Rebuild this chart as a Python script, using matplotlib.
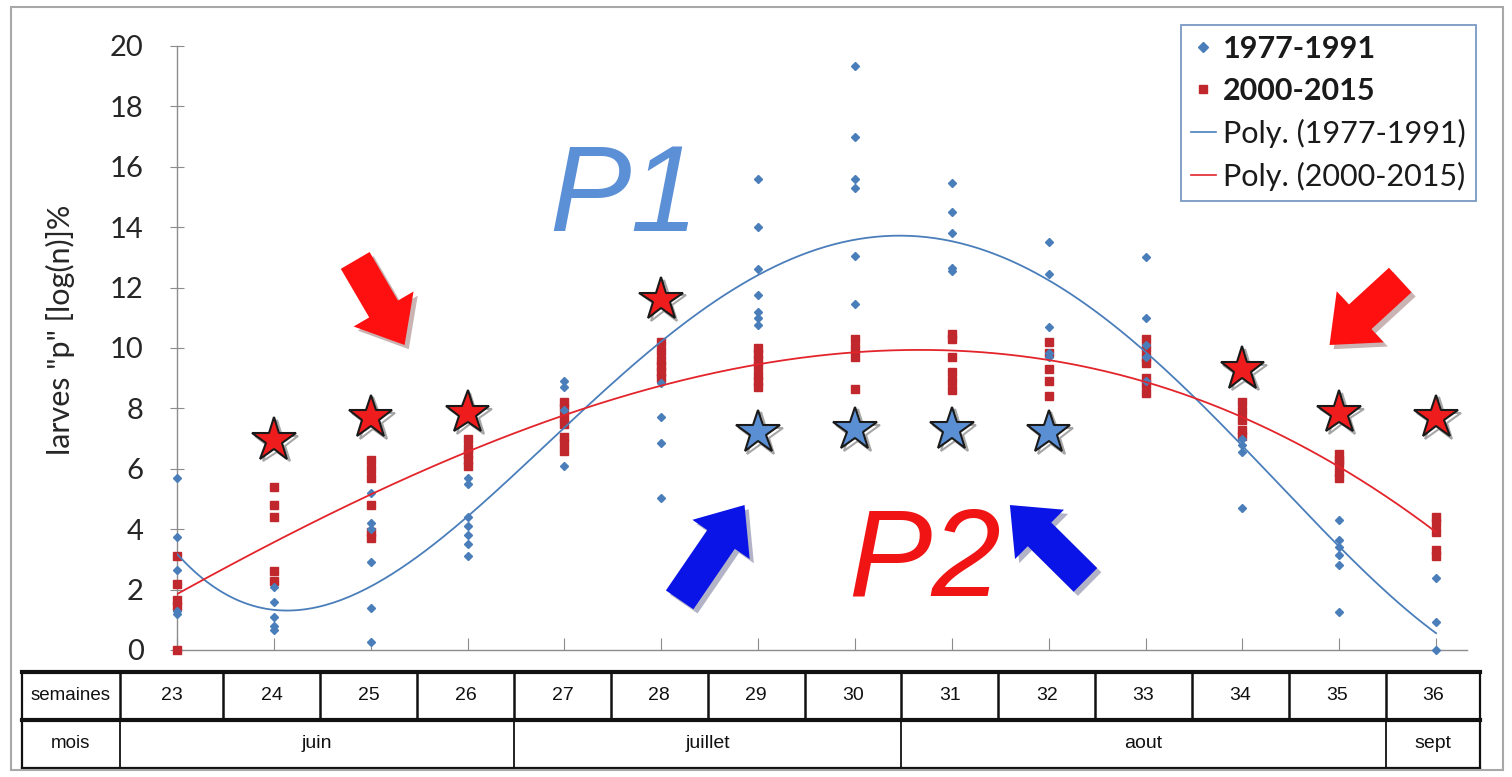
import numpy as np
import matplotlib
matplotlib.use("Agg")
import matplotlib.pyplot as plt
from matplotlib import font_manager
from matplotlib.lines import Line2D
from matplotlib.patches import Rectangle
import matplotlib.patheffects as pe

# ---------------- data ----------------
weeks = [23, 24, 25, 26, 27, 28, 29, 30, 31, 32, 33, 34, 35, 36]

blue_1977 = [
    [5.7, 3.75, 2.65, 1.3, 1.2],
    [2.1, 1.6, 1.1, 0.8, 0.65],
    [5.2, 4.2, 4.0, 2.9, 1.4, 0.25],
    [5.7, 5.5, 4.4, 4.1, 3.8, 3.5, 3.1],
    [8.9, 8.7, 7.95, 6.1],
    [8.85, 7.7, 6.85, 5.03],
    [15.6, 14.0, 12.6, 11.75, 11.2, 11.0, 10.75],
    [19.35, 17.0, 15.6, 15.3, 13.05, 11.45],
    [15.45, 14.5, 13.8, 12.65, 12.55],
    [13.5, 12.45, 10.7, 9.85, 9.7],
    [13.0, 11.0, 10.1, 9.7, 8.9],
    [7.0, 6.8, 6.55, 4.7],
    [4.3, 3.65, 3.4, 3.15, 2.8, 1.25],
    [2.4, 0.93, 0.0],
]
red_2000 = [
    [3.1, 2.2, 1.65, 1.45, 0.0],
    [5.4, 4.8, 4.4, 2.6, 2.3],
    [6.3, 6.0, 5.7, 4.8, 3.9, 3.7],
    [7.0, 6.7, 6.5, 6.3, 6.1],
    [8.2, 8.0, 7.7, 7.5, 7.05, 6.85, 6.6],
    [10.2, 9.9, 9.6, 9.4, 9.2, 9.0],
    [10.0, 9.8, 9.6, 9.4, 9.1, 8.9, 8.7],
    [10.3, 10.0, 9.7, 8.65],
    [10.45, 10.3, 9.7, 9.2, 8.9, 8.6],
    [10.2, 9.85, 9.3, 8.9, 8.4],
    [10.3, 10.0, 9.7, 9.5, 9.0, 8.8, 8.5],
    [8.2, 7.9, 7.6, 7.3, 7.1],
    [6.5, 6.3, 6.2, 5.9, 5.7],
    [4.4, 4.2, 3.9, 3.3, 3.1],
]

red_star_weeks = [24, 25, 26, 28, 34, 35, 36]
red_star_values = [6.95, 7.7, 7.85, 11.6, 9.3, 7.85, 7.7]
blue_star_weeks = [29, 30, 31, 32]
blue_star_values = [7.2, 7.3, 7.3, 7.2]

# arrows: (tail_x, tail_y, tip_x, tip_y) in data units
red_arrows = [(24.84, 12.9, 25.35, 10.1), (35.63, 12.25, 34.9, 10.1)]
blue_arrows = [(28.19, 1.66, 28.86, 4.8), (32.38, 2.32, 31.6, 4.8)]

months = ["juin", "juillet", "aout", "sept"]
month_weeks = [(23, 26), (27, 30), (31, 35), (36, 36)]

legend_labels = ["1977-1991", "2000-2015", "Poly. (1977-1991)", "Poly. (2000-2015)"]
ylabel = 'larves "p" [log(n)]%'

# ---------------- style ----------------
BLUE = "#4a7ebb"
DARKRED = "#c0282d"
RED_LINE = "#e3242b"
STAR_RED = "#ee1c1c"
STAR_BLUE = "#5b8fd4"

names = {f.name for f in font_manager.fontManager.ttflist}
main_font = "Lato" if "Lato" in names else "DejaVu Sans"
narrow_font = "Liberation Sans Narrow" if "Liberation Sans Narrow" in names else "Liberation Sans"
plt.rcParams["font.family"] = [main_font, "DejaVu Sans"]

W, H = 1512, 777
fig = plt.figure(figsize=(W / 100, H / 100), dpi=100)
fig.patch.set_facecolor("white")

# outer frame
fig.patches.append(Rectangle((11 / W, 7 / H), (1503 - 11) / W, (770 - 7) / H,
                             transform=fig.transFigure, fill=False,
                             edgecolor="#a8a8a8", lw=1.5))

ax_l, ax_r, ax_t, ax_b = 177, 1467, 46, 650
ax = fig.add_axes([ax_l / W, (H - ax_b) / H, (ax_r - ax_l) / W, (ax_b - ax_t) / H])
x0 = 23.0
px_per_week = 96.85
x1 = x0 + (ax_r - ax_l) / px_per_week
ax.set_xlim(x0, x1)
ax.set_ylim(0, 20)

for s in ["top", "right"]:
    ax.spines[s].set_visible(False)
for s in ["left", "bottom"]:
    ax.spines[s].set_color("#8c8c8c")
    ax.spines[s].set_linewidth(1.0)

ax.set_yticks(np.arange(0, 21, 2))
ax.set_xticks(weeks)
ax.set_xticklabels([])
ax.tick_params(axis="y", direction="inout", length=10, color="#8c8c8c",
               labelsize=21, labelcolor="#262626", pad=19)
ax.tick_params(axis="x", direction="in", length=9, color="#8c8c8c")

# scatter points
bx = np.concatenate([[w] * len(v) for w, v in zip(weeks, blue_1977)])
by = np.concatenate(blue_1977)
rx = np.concatenate([[w] * len(v) for w, v in zip(weeks, red_2000)])
ry = np.concatenate(red_2000)

ax.plot(rx, ry, ls="none", marker="s", ms=5.4, mfc=DARKRED, mec=DARKRED,
        clip_on=False, zorder=3)
ax.plot(bx, by, ls="none", marker="D", ms=4.5, mfc=BLUE, mec=BLUE,
        clip_on=False, zorder=3)

# polynomial trend lines (fit of the data, like the spreadsheet trendline)
xs = np.linspace(23, 36, 300)
pb = np.polyfit(bx, by, 4)
pr = np.polyfit(rx, ry, 3)
ax.plot(xs, np.polyval(pb, xs), color=BLUE, lw=1.3, zorder=4)
ax.plot(xs, np.polyval(pr, xs), color=RED_LINE, lw=1.3, zorder=4)

shadow = [pe.SimpleLineShadow(offset=(2, -2), alpha=0.35), pe.Normal()]
ax.plot(red_star_weeks, red_star_values, ls="none", marker="*", ms=33,
        mfc=STAR_RED, mec="#1a1a1a", mew=1.5, zorder=6, clip_on=False,
        path_effects=shadow)
ax.plot(blue_star_weeks, blue_star_values, ls="none", marker="*", ms=33,
        mfc=STAR_BLUE, mec="#1a1a1a", mew=1.5, zorder=6, clip_on=False,
        path_effects=shadow)

# arrows
arrow_style = "simple,head_length=0.6,head_width=1.0,tail_width=0.48"
for (tx, ty, hx, hy) in red_arrows:
    ax.annotate("", xy=(hx, hy), xytext=(tx, ty),
                arrowprops=dict(arrowstyle=arrow_style, mutation_scale=50,
                                fc="#ff1010", ec="none", shrinkA=0, shrinkB=0,
                                path_effects=[pe.withSimplePatchShadow(offset=(3, -3), alpha=0.3)]),
                zorder=7)
for (tx, ty, hx, hy) in blue_arrows:
    ax.annotate("", xy=(hx, hy), xytext=(tx, ty),
                arrowprops=dict(arrowstyle=arrow_style, mutation_scale=50,
                                fc="#0a14e6", ec="none", shrinkA=0, shrinkB=0,
                                path_effects=[pe.withSimplePatchShadow(offset=(3, -3), alpha=0.3)]),
                zorder=7)

# P1 / P2 labels
ax.text(27.62, 14.95, "P1", color="#5b8fd6", fontsize=88, style="italic",
        family=["Liberation Sans", "DejaVu Sans"], ha="center", va="center", zorder=2)
ax.text(30.72, 2.85, "P2", color="#f01414", fontsize=90, style="italic",
        family=["Liberation Sans", "DejaVu Sans"], ha="center", va="center", zorder=2)

# y label
fig.text(60 / W, 1 - 330 / H, ylabel, rotation=90, ha="center", va="center",
         fontsize=22, color="#262626")

# legend
handles = [
    Line2D([], [], ls="none", marker="D", ms=5, mfc=BLUE, mec=BLUE),
    Line2D([], [], ls="none", marker="s", ms=5.5, mfc=DARKRED, mec=DARKRED),
    Line2D([], [], color=BLUE, lw=1.2),
    Line2D([], [], color=RED_LINE, lw=1.2),
]
leg = fig.legend(handles, legend_labels, loc="upper right",
                 bbox_to_anchor=(1476 / W, 1 - 25 / H), fontsize=22,
                 frameon=True, fancybox=False, edgecolor="#5a7fb5",
                 handlelength=0.8, handletextpad=0.25, labelspacing=0.45,
                 borderpad=0.33, borderaxespad=0)
leg.get_frame().set_linewidth(1.3)
for i, t in enumerate(leg.get_texts()):
    t.set_color("#1a1a1a")
    if i < 2:
        t.set_fontweight("bold")

# ---------------- table ----------------
tl, tr, tt, tb = 22, 1480, 672, 768
tax = fig.add_axes([tl / W, (H - tb) / H, (tr - tl) / W, (tb - tt) / H])
tx0 = x0 - (ax_l - tl) / px_per_week
tx1 = x0 + (tr - ax_l) / px_per_week
tax.set_xlim(tx0, tx1)
tax.set_ylim(0, 2)
tax.axis("off")

edges = [22.41] + [w - 0.52 for w in weeks[1:]] + [36.45]
lc = "#111111"
tax.plot([tx0, tx1], [2, 2], color=lc, lw=3, clip_on=False)
tax.plot([tx0, tx1], [1, 1], color=lc, lw=3, clip_on=False)
tax.plot([tx0, tx1], [0, 0], color=lc, lw=1.6, clip_on=False)
tax.plot([tx0, tx0], [0, 2], color=lc, lw=1.6, clip_on=False)
tax.plot([tx1, tx1], [0, 2], color=lc, lw=1.6, clip_on=False)
for e in edges[:-1]:
    tax.plot([e, e], [1, 2], color=lc, lw=1.8, clip_on=False)

tfont = [narrow_font, "DejaVu Sans"]
tax.text((tx0 + edges[0]) / 2, 1.5, "semaines", ha="center", va="center",
         fontsize=13.5, family=tfont, color="#111111")
tax.text((tx0 + edges[0]) / 2, 0.5, "mois", ha="center", va="center",
         fontsize=13.5, family=tfont, color="#111111")
for i, w in enumerate(weeks):
    tax.text((edges[i] + edges[i + 1]) / 2, 1.5, str(w), ha="center", va="center",
             fontsize=14, family=tfont, color="#111111")

tax.plot([edges[0], edges[0]], [0, 1], color=lc, lw=1.3, clip_on=False)
for m, (a, b) in zip(months, month_weeks):
    left = edges[weeks.index(a)]
    right = edges[weeks.index(b) + 1]
    tax.plot([right, right], [0, 1], color=lc, lw=1.3, clip_on=False)
    tax.text((left + right) / 2, 0.5, m, ha="center", va="center",
             fontsize=14, family=tfont, color="#111111")

fig.savefig("out.png", dpi=100, facecolor="white")
